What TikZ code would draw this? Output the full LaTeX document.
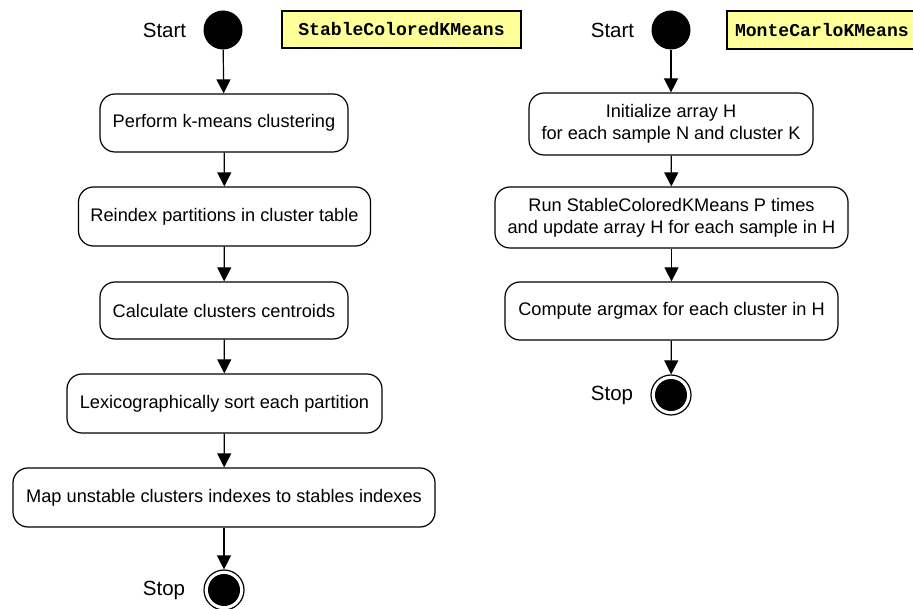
\documentclass[tikz,border=0pt]{standalone}
\usepackage{fontspec}
\setmainfont{Liberation Sans}
\newfontfamily\codefont{Liberation Mono}
\usetikzlibrary{arrows.meta}
\definecolor{noteyellow}{HTML}{FFFF99}
\tikzset{
  act/.style={draw, line width=1.2pt, rounded corners=15pt, align=center, inner sep=0pt,
    font=\fontsize{18.2}{22}\selectfont},
  startc/.style={circle, fill=black, minimum size=39pt, inner sep=0pt},
  stopc/.style={circle, draw, line width=1.2pt, minimum size=40pt, inner sep=0pt,
    path picture={\fill (path picture bounding box.center) circle (16pt);}},
  lbl/.style={font=\fontsize{20.5}{24}\selectfont, inner sep=0pt},
  note/.style={draw, line width=1.2pt, fill=noteyellow, inner sep=0pt,
    font=\codefont\bfseries\fontsize{18.1}{21}\selectfont},
  flow/.style={-{Triangle[length=14pt,width=14pt]}, line width=1.2pt}
}
\begin{document}
\begin{tikzpicture}[x=1pt,y=-1pt]
\useasboundingbox[fill=white] (0,0) rectangle (913,609);
% left
\node[startc] (s1) at (223,30) {};
\node[lbl] (s1l) at (164.5,30) {Start};
\node[note, minimum width=239pt, minimum height=37pt] (n1) at (401.5,29.5) {StableColoredKMeans};
\node[act, minimum width=248pt, minimum height=58pt] (a1) at (224,123) {Perform k-means clustering};
\node[act, minimum width=292pt, minimum height=59pt] (a2) at (224.5,216.5) {Reindex partitions in cluster table};
\node[act, minimum width=248pt, minimum height=57pt] (a3) at (224,310.5) {Calculate clusters centroids};
\node[act, minimum width=315pt, minimum height=59pt] (a4) at (224.5,403.5) {Lexicographically sort each partition};
\node[act, minimum width=422pt, minimum height=59pt] (a5) at (224,497.5) {Map unstable clusters indexes to stables indexes};
\node[stopc] (e1) at (224,590) {};
\node[lbl] (e1l) at (164,590) {Stop};
\draw[flow] (s1) -- (a1);
\draw[flow] (a1) -- (a2);
\draw[flow] (a2) -- (a3);
\draw[flow] (a3) -- (a4);
\draw[flow] (a4) -- (a5);
\draw[flow] (a5) -- (e1);
% right
\node[startc] (s2) at (671,30) {};
\node[lbl] (s2l) at (612.5,30) {Start};
\node[note, minimum width=192pt, minimum height=38pt, text width=176pt] (n2) at (823,30) {MonteCarloKMeans};
\node[act, minimum width=284pt, minimum height=62pt] (b1) at (671,124) {Initialize array H\\for each sample N and cluster K};
\node[act, minimum width=353pt, minimum height=61pt] (b2) at (671.5,217.5) {Run StableColoredKMeans P times\\and update array H for each sample in H};
\node[act, minimum width=333pt, minimum height=58pt] (b3) at (671.5,311) {Compute argmax for each cluster in H};
\node[stopc] (e2) at (671,395) {};
\node[lbl] (e2l) at (612,395) {Stop};
\draw[flow] (s2) -- (b1);
\draw[flow] (b1) -- (b2);
\draw[flow] (b2) -- (b3);
\draw[flow] (b3) -- (e2);
\end{tikzpicture}
\end{document}
